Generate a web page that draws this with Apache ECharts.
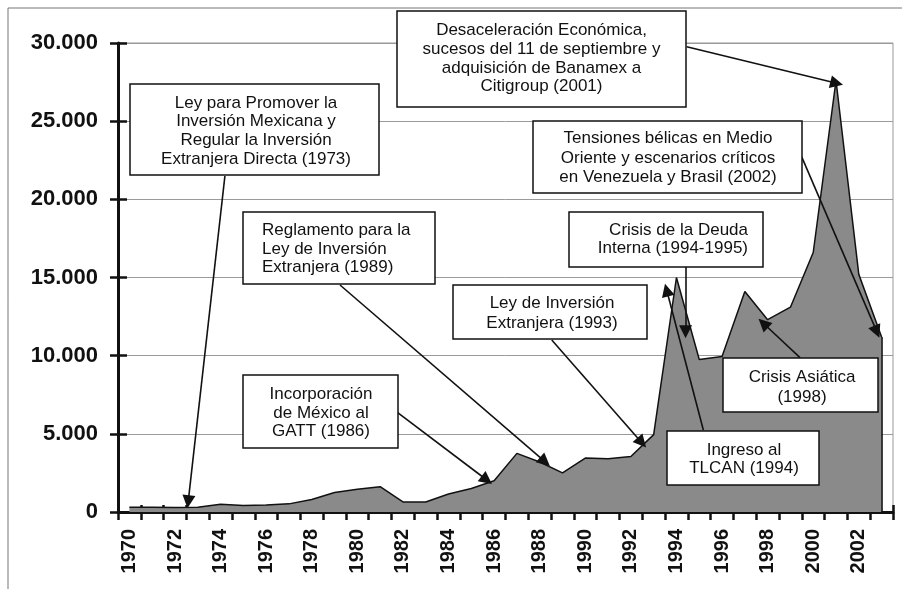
<!DOCTYPE html>
<html><head><meta charset="utf-8">
<script src="https://cdn.jsdelivr.net/npm/echarts@6/dist/echarts.min.js"></script>
<style>html,body{margin:0;padding:0;background:#fff}#c{width:902px;height:589px}</style>
</head><body><div id="c"></div>
<script>
// ---- data ----
const years = [1970,1971,1972,1973,1974,1975,1976,1977,1978,1979,1980,1981,1982,1983,1984,1985,1986,1987,1988,1989,1990,1991,1992,1993,1994,1995,1996,1997,1998,1999,2000,2001,2002,2003];
const fdiValues = [300,300,280,300,500,420,450,520,800,1250,1450,1620,640,640,1150,1500,2000,3750,3200,2500,3450,3400,3550,4950,15000,9750,9950,14100,12300,13100,16600,27600,15200,11200];
const yTickValues = [0,5000,10000,15000,20000,25000,30000];
const yTickLabels = ['0','5.000','10.000','15.000','20.000','25.000','30.000'];

// annotation texts
const annTexts = [
  ['Ley para Promover la','Inversión Mexicana y','Regular la Inversión','Extranjera Directa (1973)'],
  ['Desaceleración Económica,','sucesos del 11 de septiembre y','adquisición de Banamex a','Citigroup (2001)'],
  ['Tensiones bélicas en Medio','Oriente y escenarios críticos','en Venezuela y Brasil (2002)'],
  ['Reglamento para la','Ley de Inversión','Extranjera (1989)'],
  ['Incorporación','de México al','GATT (1986)'],
  ['Ley de Inversión','Extranjera (1993)'],
  ['Crisis de la Deuda','Interna (1994-1995)'],
  ['Ingreso al','TLCAN (1994)'],
  ['Crisis Asiática','(1998)']
];
// arrow start (at box edge) and tip, in [year, value] terms
const arrowFrom = [[1974.19,21494],[1994.45,29766],[1999.49,22729],[1979.24,14521],[1981.77,6352],[1988.53,11003],[1994.40,15673],[1995.18,5246],[1999.42,9871]];
const arrowTo   = [[1972.58,660],[2001.03,27424],[2002.79,11534],[1988.23,3218],[1985.68,2047],[1992.48,4433],[1994.40,11534],[1993.57,14201],[1997.81,12071]];

// ---- layout (pixels) ----
const FONT = '"Liberation Sans", Arial, sans-serif';
const boxes = [
  {r:[130,84,379,175], tx:256, ty:131, align:'center', lh:18.7},
  {r:[397,11,686,107], tx:541.5, ty:58.5, align:'center', lh:18.7},
  {r:[533,121,802,193], tx:668, ty:158, align:'center', lh:19.5},
  {r:[243,212,435,284], tx:262, ty:249, align:'left', lh:18.5},
  {r:[243,375,398,448], tx:321, ty:413, align:'center', lh:18.5},
  {r:[453,285,647,339], tx:552, ty:313, align:'center', lh:20},
  {r:[569,212,763,267], tx:748, ty:239.5, align:'right', lh:18.5},
  {r:[667,431,819,485], tx:744, ty:459.5, align:'center', lh:18.5},
  {r:[723,358,878,412], tx:802, ty:387, align:'center', lh:20}
];

const graphics = [
  {type:'line', shape:{x1:8,y1:8,x2:902,y2:8}, style:{stroke:'#777', lineWidth:1}, z:1},
  {type:'line', shape:{x1:8,y1:8,x2:8,y2:589}, style:{stroke:'#777', lineWidth:1}, z:1}
];
boxes.forEach((b,i)=>{
  graphics.push({type:'rect', shape:{x:b.r[0], y:b.r[1], width:b.r[2]-b.r[0], height:b.r[3]-b.r[1]},
    style:{fill:'#fff', stroke:'#111', lineWidth:1.5}, z:50});
  graphics.push({type:'text', x:b.tx, y:b.ty, style:{text:annTexts[i].join('\n'), fill:'#111',
    font:'17px '+FONT, textAlign:b.align, textVerticalAlign:'middle', lineHeight:b.lh}, z:51});
});

const arrows = arrowFrom.map((f,i)=>[{coord:f, symbol:'none'},{coord:arrowTo[i], symbol:'triangle', symbolSize:13}]);
const last = years.length-1;
arrows.push([{coord:[years[last],0], symbol:'none'},{coord:[years[last],fdiValues[last]], symbol:'none'}]);

const tickStyle = {color:'#111', width:2.5};
const option = {
  animation:false,
  backgroundColor:'#fff',
  grid:{left:118, right:9, top:43, bottom:77, show:true, borderColor:'#999', borderWidth:1, backgroundColor:'transparent'},
  xAxis:[
    {type:'category', data:years.map(String), position:'bottom', boundaryGap:true,
     axisLine:{show:true, onZero:false, lineStyle:{color:'#111', width:3}},
     axisTick:{show:true, interval:0, length:8, lineStyle:tickStyle},
     axisLabel:{interval:1, rotate:90, margin:17, fontSize:20, fontWeight:'bold', color:'#111', fontFamily:FONT},
     splitLine:{show:false}},
    {type:'value', min:1969.5, max:2003.5, show:false, position:'bottom', splitLine:{show:false}},
    {type:'category', data:years.map(String), position:'bottom', boundaryGap:true,
     axisLine:{show:false}, axisTick:{show:true, inside:true, interval:0, length:7, lineStyle:tickStyle},
     axisLabel:{show:false}, splitLine:{show:false}}
  ],
  yAxis:[
    {type:'value', min:yTickValues[0], max:yTickValues[yTickValues.length-1], interval:yTickValues[1]-yTickValues[0], position:'left',
     axisLine:{show:true, lineStyle:{color:'#111', width:3}},
     axisTick:{show:true, length:8, lineStyle:tickStyle},
     axisLabel:{margin:20, fontSize:22, fontWeight:'bold', color:'#111', fontFamily:FONT,
       formatter:v=>yTickLabels[yTickValues.indexOf(v)]},
     splitLine:{show:true, lineStyle:{color:'#9a9a9a', width:1}}},
    {type:'value', min:yTickValues[0], max:yTickValues[yTickValues.length-1], interval:yTickValues[1]-yTickValues[0], position:'left',
     axisLine:{show:false}, axisTick:{show:true, inside:true, length:9, lineStyle:tickStyle},
     axisLabel:{show:false}, splitLine:{show:false}}
  ],
  series:[{
    type:'line', xAxisIndex:1, yAxisIndex:0,
    data:years.map((y,i)=>[y,fdiValues[i]]),
    symbol:'none', lineStyle:{color:'#111', width:1.5},
    areaStyle:{color:'#8a8a8a', opacity:1},
    markLine:{silent:true, symbol:['none','triangle'], symbolSize:13,
      itemStyle:{color:'#111'},
      lineStyle:{color:'#111', width:1.6, type:'solid'}, label:{show:false},
      emphasis:{disabled:true}, data:arrows}
  }],
  graphic:graphics
};
const chart = echarts.init(document.getElementById('c'));
chart.setOption(option);
</script></body></html>
